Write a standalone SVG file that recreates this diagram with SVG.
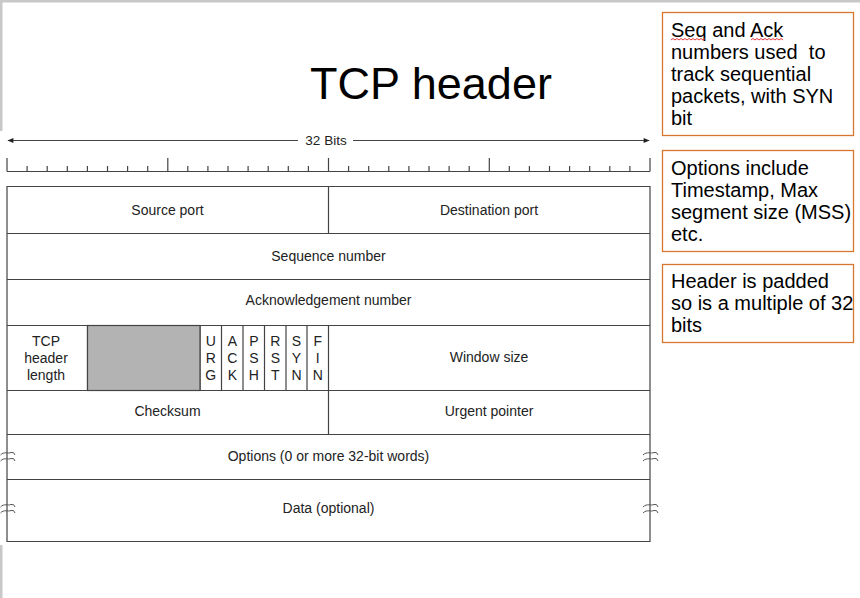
<svg xmlns="http://www.w3.org/2000/svg" width="860" height="598" viewBox="0 0 860 598">
<defs>
<style>
.t{font-family:"Liberation Sans",Arial,sans-serif;font-size:14px;fill:#222;text-anchor:middle}
.n{font-family:"Liberation Sans",Arial,sans-serif;font-size:20px;fill:#000;white-space:pre}
.ln{stroke:#444;stroke-width:1.2;fill:none}
.box{fill:#fff;stroke:#d9772f;stroke-width:1.3}
.brk{stroke:#555;stroke-width:1;fill:none}
.sq{stroke:#e03a3a;stroke-width:1;fill:none}
</style>
<marker id="ah" viewBox="0 0 10 10" refX="9" refY="5" markerWidth="9" markerHeight="6" orient="auto-start-reverse" markerUnits="userSpaceOnUse">
<path d="M0,1 L10,5 L0,9 z" fill="#222"/>
</marker>
</defs>
<rect x="0" y="0" width="860" height="598" fill="#fff"/>
<rect x="0" y="0" width="860" height="2.5" fill="#c8c8c8"/>
<rect x="0" y="0" width="2.5" height="131" fill="#c8c8c8"/>
<rect x="0" y="545" width="2.5" height="53" fill="#c8c8c8"/>

<text x="431" y="99" style="font-family:'Liberation Sans',Arial,sans-serif;font-size:45px;fill:#000;text-anchor:middle">TCP header</text>

<g id="ruler">
<line x1="8" y1="140.5" x2="298" y2="140.5" class="ln" marker-start="url(#ah)"/>
<line x1="353" y1="140.5" x2="649" y2="140.5" class="ln" marker-end="url(#ah)"/>
<text x="326" y="145" class="t" style="font-size:13.5px">32 Bits</text>
<path class="ln" d="M7,171.5 H650 M7,158 V171.5 M167.8,158 V171.5 M328.5,158 V171.5 M489.3,158 V171.5 M650,158 V171.5
M27.1,166 V171.5 M47.2,166 V171.5 M67.3,166 V171.5 M87.4,166 V171.5 M107.5,166 V171.5 M127.6,166 V171.5 M147.7,166 V171.5
M187.8,166 V171.5 M207.9,166 V171.5 M228,166 V171.5 M248.1,166 V171.5 M268.2,166 V171.5 M288.3,166 V171.5 M308.4,166 V171.5
M348.6,166 V171.5 M368.7,166 V171.5 M388.8,166 V171.5 M408.9,166 V171.5 M429,166 V171.5 M449.1,166 V171.5 M469.2,166 V171.5
M509.3,166 V171.5 M529.4,166 V171.5 M549.5,166 V171.5 M569.6,166 V171.5 M589.7,166 V171.5 M609.8,166 V171.5 M629.9,166 V171.5"/>
</g>

<g id="connectors">
<path class="ln" d="M7,186.5 H650 V541.5 H7 Z M7,233.5 H650 M7,279.5 H650 M7,325.5 H650 M7,390.5 H650 M7,434.5 H650 M7,479.5 H650
M328.5,186.5 V233.5 M328.5,325.5 V434.5 M87.5,325.5 V390.5 M200,325.5 V390.5 M221.5,325.5 V390.5 M243,325.5 V390.5 M264.5,325.5 V390.5 M286,325.5 V390.5 M307,325.5 V390.5"/>
<path class="brk" d="M0.5,455 C4,451 8,454 11,452.5 Q14,451.5 15,455 M0.5,461 C4,457 8,460 11,458.5 Q14,457.5 15,461
M0.5,507 C4,503 8,506 11,504.5 Q14,503.5 15,507 M0.5,513 C4,509 8,512 11,510.5 Q14,509.5 15,513
M643,455 C647,451 651,454 654,452.5 Q657,451.5 658,455 M643,461 C647,457 651,460 654,458.5 Q657,457.5 658,461
M643,507 C647,503 651,506 654,504.5 Q657,503.5 658,507 M643,513 C647,509 651,512 654,510.5 Q657,509.5 658,513"/>
</g>

<g id="source-port"><text x="167.5" y="215" class="t">Source port</text></g>
<g id="destination-port"><text x="489" y="215" class="t">Destination port</text></g>
<g id="sequence-number"><text x="328.5" y="261" class="t">Sequence number</text></g>
<g id="ack-number"><text x="328.5" y="305" class="t">Acknowledgement number</text></g>
<g id="header-length"><text class="t"><tspan x="46" y="346">TCP</tspan><tspan x="46" y="363">header</tspan><tspan x="46" y="380">length</tspan></text></g>
<g id="reserved"><rect x="87.5" y="325.5" width="112.5" height="65" fill="#b3b3b3" stroke="#444" stroke-width="1.2"/></g>
<g id="flags">
<text class="t"><tspan x="210.8" y="346">U</tspan><tspan x="210.8" y="363">R</tspan><tspan x="210.8" y="380">G</tspan></text>
<text class="t"><tspan x="232.3" y="346">A</tspan><tspan x="232.3" y="363">C</tspan><tspan x="232.3" y="380">K</tspan></text>
<text class="t"><tspan x="253.8" y="346">P</tspan><tspan x="253.8" y="363">S</tspan><tspan x="253.8" y="380">H</tspan></text>
<text class="t"><tspan x="275.3" y="346">R</tspan><tspan x="275.3" y="363">S</tspan><tspan x="275.3" y="380">T</tspan></text>
<text class="t"><tspan x="296.5" y="346">S</tspan><tspan x="296.5" y="363">Y</tspan><tspan x="296.5" y="380">N</tspan></text>
<text class="t"><tspan x="317.8" y="346">F</tspan><tspan x="317.8" y="363">I</tspan><tspan x="317.8" y="380">N</tspan></text>
</g>
<g id="window-size"><text x="489" y="362" class="t">Window size</text></g>
<g id="checksum"><text x="167.5" y="416" class="t">Checksum</text></g>
<g id="urgent-pointer"><text x="489" y="416" class="t">Urgent pointer</text></g>
<g id="options"><text x="328.5" y="461" class="t">Options (0 or more 32-bit words)</text></g>
<g id="data"><text x="328.5" y="513" class="t">Data (optional)</text></g>

<g id="note-seq">
<rect x="662.5" y="12.5" width="191" height="123" class="box"/>
<text class="n" xml:space="preserve"><tspan x="671" y="37">Seq and Ack</tspan><tspan x="671" y="59">numbers used  to</tspan><tspan x="671" y="81">track sequential</tspan><tspan x="671" y="103">packets, with SYN</tspan><tspan x="671" y="125">bit</tspan></text>
<path class="sq" d="M671,40 l2,-1.5 l2,1.5 l2,-1.5 l2,1.5 l2,-1.5 l2,1.5 l2,-1.5 l2,1.5 l2,-1.5 l2,1.5 l2,-1.5 l2,1.5 l2,-1.5 l2,1.5 l2,-1.5 l2,1.5 l2,-1.5
M751,40 l2,-1.5 l2,1.5 l2,-1.5 l2,1.5 l2,-1.5 l2,1.5 l2,-1.5 l2,1.5 l2,-1.5 l2,1.5 l2,-1.5 l2,1.5 l2,-1.5 l2,1.5 l2,-1.5 l2,1.5"/>
</g>
<g id="note-options">
<rect x="662.5" y="150.5" width="191" height="101" class="box"/>
<text class="n"><tspan x="671" y="175">Options include</tspan><tspan x="671" y="197">Timestamp, Max</tspan><tspan x="671" y="219">segment size (MSS)</tspan><tspan x="671" y="241">etc.</tspan></text>
</g>
<g id="note-padding">
<rect x="662.5" y="264.5" width="191" height="78" class="box"/>
<text class="n"><tspan x="671" y="288">Header is padded</tspan><tspan x="671" y="310">so is a multiple of 32</tspan><tspan x="671" y="332">bits</tspan></text>
</g>
</svg>
